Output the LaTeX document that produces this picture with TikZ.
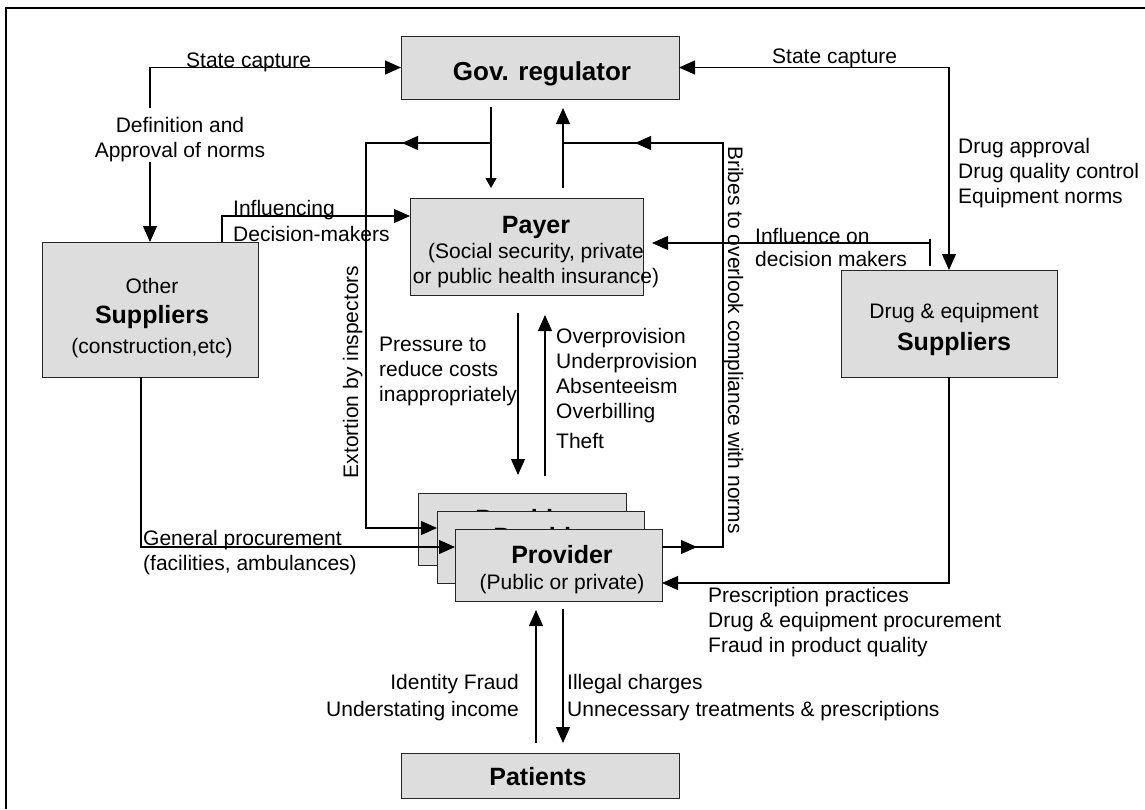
\documentclass[tikz,border=0pt]{standalone}
\usepackage{fontspec}
\setmainfont{Liberation Sans}
\usetikzlibrary{arrows.meta,calc,decorations.markings}
\definecolor{boxgray}{HTML}{DDDDDD}
\begin{document}
\begin{tikzpicture}[x=1pt,y=-1pt,
  box/.style={draw=black!85, fill=boxgray, line width=0.9pt, rectangle, inner sep=0pt, outer sep=0pt, anchor=north west},
  lbl/.style={inner sep=0pt, font=\fontsize{21}{25}\selectfont},
  conn/.style={line width=1.1pt, black},
  bigarrow/.style={-{Triangle[length=16pt,width=14pt]}},
  botharrow/.style={{Triangle[length=16pt,width=14pt]}-{Triangle[length=16pt,width=14pt]}},
  smallarrow/.style={-{Triangle[length=10pt,width=11pt]}},
  midarr/.style={postaction={decorate},decoration={markings,mark=at position #1 with {\arrow{Triangle[length=16pt,width=14pt]}}}}
]
\useasboundingbox (0,0) rectangle (1145,809);
\draw[line width=1.6pt] (6,809) -- (6,8) -- (1145,8);

% boxes
\node[box, minimum width=278pt, minimum height=63pt] (gov) at (401,36) {};
\node[inner sep=0pt, anchor=base, font=\fontsize{26}{30}\selectfont\bfseries] (govtxt) at (542,80) {Gov. regulator};

\node[box, minimum width=233pt, minimum height=97pt] (payer) at (410,198) {};
\node[inner sep=0pt, anchor=north, align=center, font=\fontsize{21}{25}\selectfont] (payertxt) at (536,216)
  {{\fontsize{25}{25}\selectfont\bfseries Payer}\\(Social security, private\\or public health insurance)};

\node[box, minimum width=216pt, minimum height=135pt] (other) at (42,242) {};
\node[inner sep=0pt, anchor=north, align=center, font=\fontsize{21}{30}\selectfont] (othertxt) at (152,278)
  {Other\\{\fontsize{25}{30}\selectfont\bfseries Suppliers}\\(construction,etc)};

\node[box, minimum width=216pt, minimum height=107pt] (drug) at (841,270) {};
\node[inner sep=0pt, anchor=north, align=center, font=\fontsize{21}{32}\selectfont] (drugtxt) at (954,303)
  {Drug \& equipment\\{\fontsize{25}{32}\selectfont\bfseries Suppliers}};

\node[box, minimum width=208pt, minimum height=72pt] (prov3) at (418,493) {};
\node[inner sep=0pt, anchor=north, align=center, font=\fontsize{21}{26}\selectfont] (prov3txt) at (526,509)
  {{\fontsize{25}{26}\selectfont\bfseries Provider}\\(Public or private)};
\node[box, minimum width=207pt, minimum height=72pt] (prov2) at (437,511) {};
\node[inner sep=0pt, anchor=north, align=center, font=\fontsize{21}{26}\selectfont] (prov2txt) at (544,527)
  {{\fontsize{25}{26}\selectfont\bfseries Provider}\\(Public or private)};
\node[box, minimum width=207pt, minimum height=72pt] (prov1) at (455,529) {};
\node[inner sep=0pt, anchor=north, align=center, font=\fontsize{21}{26}\selectfont] (prov1txt) at (562,545)
  {{\fontsize{25}{26}\selectfont\bfseries Provider}\\(Public or private)};

\node[box, minimum width=278pt, minimum height=45pt] (patients) at (401,753) {};
\node[inner sep=0pt, anchor=base, font=\fontsize{25}{30}\selectfont\bfseries] (pattxt) at (538,785) {Patients};

% labels
\node[lbl, anchor=base west] (sc1) at (186,67) {State capture};
\node[lbl, anchor=north, align=center] (defl) at (180,117) {Definition and\\Approval of norms};
\node[lbl, anchor=north west, align=left] (inflbl) at (233,200) {Influencing\\[1pt]Decision-makers};
\node[lbl, anchor=base west] (sc2) at (772,63) {State capture};
\node[lbl, anchor=north west, align=left] (dal) at (958,138) {Drug approval\\Drug quality control\\Equipment norms};
\node[lbl, anchor=north west, align=left] (idm) at (755,228) {Influence on\\[-2pt]decision makers};
\node[lbl, anchor=north west, align=left] (press) at (379,337) {Pressure to\\reduce costs\\inappropriately};
\node[lbl, anchor=north west, align=left] (over) at (556,328) {Overprovision\\Underprovision\\Absenteeism\\Overbilling\\[5pt]Theft};
\node[lbl, anchor=north west, align=left] (presc) at (708,587) {Prescription practices\\Drug \& equipment procurement\\Fraud in product quality};
\node[lbl, anchor=north east, align=right] (idf) at (519,674) {Identity Fraud\\[2pt]Understating income};
\node[lbl, anchor=north west, align=left] (ill) at (567,674) {Illegal charges\\[2pt]Unnecessary treatments \& prescriptions};
\node[lbl, anchor=north west, align=left] (gp) at (143,530) {General procurement\\(facilities, ambulances)};
\node[lbl, rotate=90, anchor=base] (ext) at (358,372) {Extortion by inspectors};
\node[lbl, rotate=-90, anchor=base] (bri) at (728,340) {Bribes to overlook compliance with norms};

% connectors
\draw[conn, bigarrow] ($(other.north)+(0,-134)$) |- (gov.west);
\draw[conn, bigarrow] ($(other.north)+(0,-80)$) -- (other.north);
\draw[conn, botharrow] (gov.east) -| (drug.north);
\draw[conn, bigarrow] ($(other.north west)+(180,0)$) |- ($(payer.north west)+(0,18)$);
\coordinate (inflS) at (930,243);
\draw[conn, bigarrow] (inflS) -- ($(inflS -| payer.east)+(9,0)$);
\draw[conn] ($(inflS)+(0,-4)$) -- ($(inflS)+(0,23)$);
\draw[conn, smallarrow] ($(gov.south west)+(90,8)$) -- ($(payer.north west)+(81,-10)$);
\draw[conn, bigarrow] ($(payer.north west)+(153,-10)$) -- ($(gov.south west)+(162,9)$);
\draw[conn, midarr=89pt, bigarrow] ($(gov.south west)+(90,44)$) -- (366,143) -- (366,528) -- ($(prov2.north west)+(0,17)$);
\draw[conn, postaction={decorate}, decoration={markings,
    mark=at position 35pt with {\arrow{Triangle[length=16pt,width=14pt]}},
    mark=at position 553pt with {\arrow{Triangle[length=16pt,width=14pt]}}}]
  ($(prov1.north east)+(0,18)$) -- (723,547) -- (723,143) -- ($(gov.south west)+(162,44)$);
\draw[conn, bigarrow] ($(other.south west)+(99,0)$) |- ($(prov1.north west)+(0,18)$);
\draw[conn, bigarrow] (drug.south) |- ($(prov1.north east)+(0,54)$);
\draw[conn, bigarrow] ($(payer.south west)+(108,18)$) -- ($(prov3.north west)+(100,-18)$);
\draw[conn, bigarrow] ($(prov3.north west)+(127,-17)$) -- ($(payer.south west)+(135,20)$);
\draw[conn, bigarrow] ($(patients.north west)+(135,-10)$) -- ($(prov1.south west)+(81,9)$);
\draw[conn, bigarrow] ($(prov1.south west)+(108,8)$) -- ($(patients.north west)+(162,-10)$);
\end{tikzpicture}
\end{document}
